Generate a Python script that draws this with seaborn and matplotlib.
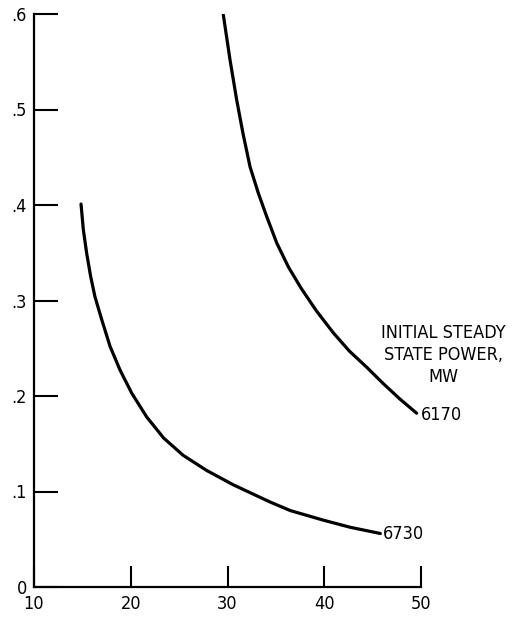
import matplotlib
matplotlib.use("Agg")
import matplotlib.pyplot as plt
from matplotlib import font_manager
import seaborn as sns
import pandas as pd

# data
x_6730 = [14.86, 15.10, 15.45, 15.86, 16.3, 17.0, 17.86, 18.9, 20.1, 21.65, 23.4, 25.4,
          27.85, 30.6, 32.5, 34.4, 36.5, 39.9, 42.7, 45.8]
y_6730 = [0.401, 0.374, 0.349, 0.325, 0.304, 0.280, 0.252, 0.227, 0.203, 0.178, 0.156, 0.138,
          0.122, 0.107, 0.098, 0.089, 0.080, 0.070, 0.0625, 0.056]
x_6170 = [29.57, 30.26, 30.95, 31.6, 32.33, 33.2, 34.05, 35.1, 36.3, 37.6, 39.2, 40.95, 42.6,
          44.4, 46.1, 47.8, 49.55]
y_6170 = [0.599, 0.552, 0.510, 0.475, 0.440, 0.412, 0.388, 0.360, 0.335, 0.313, 0.289, 0.266,
          0.247, 0.230, 0.213, 0.197, 0.182]
x_ticks = [10, 20, 30, 40, 50]
x_ticklabels = ["10", "20", "30", "40", "50"]
y_ticks = [0, 0.1, 0.2, 0.3, 0.4, 0.5, 0.6]
y_ticklabels = ["0", ".1", ".2", ".3", ".4", ".5", ".6"]
series_labels = ["6730", "6170"]
legend_title = "INITIAL STEADY\nSTATE POWER,\nMW"

df = pd.concat([
    pd.DataFrame({"x": x_6730, "y": y_6730, "power": series_labels[0]}),
    pd.DataFrame({"x": x_6170, "y": y_6170, "power": series_labels[1]}),
])

sns.set_style("white")

# pick a regular-weight condensed / narrow sans font if one is installed
narrow = None
for f in font_manager.fontManager.ttflist:
    fn = f.fname.lower()
    if ("narrow" in fn or "condensed" in fn or
            f.stretch in ("condensed", "semi-condensed", "extra-condensed")):
        if "mono" in fn or "serif" in fn or "bold" in fn or "oblique" in fn or "italic" in fn:
            continue
        if f.weight not in (400, "normal", "regular", "book"):
            continue
        if f.style != "normal":
            continue
        narrow = f
        break
if narrow is not None:
    font_prop = font_manager.FontProperties(fname=narrow.fname)
    fam = narrow.name
else:
    font_prop = None
    fam = "DejaVu Sans"
plt.rcParams["font.family"] = [fam, "DejaVu Sans"]

fig = plt.figure(figsize=(5.15, 6.21), dpi=100)
ax = fig.add_axes([34 / 515, 1 - 587 / 621, (421 - 34) / 515, (587 - 14) / 621])

sns.lineplot(data=df, x="x", y="y", hue="power", palette=["black", "black"],
             linewidth=2.3, legend=False, ax=ax, sort=False, estimator=None)

ax.set_xlim(10, 50)
ax.set_ylim(0, 0.6)
ax.set_xticks(x_ticks)
ax.set_yticks(y_ticks)
ax.set_xlabel("")
ax.set_ylabel("")

fs = 13 if narrow is not None else 12

kw = {"fontproperties": font_prop} if font_prop is not None else {}
ax.set_xticklabels(x_ticklabels, **kw)
ax.set_yticklabels(y_ticklabels, **kw)

for s in ["top", "right"]:
    ax.spines[s].set_visible(False)
for s in ["left", "bottom"]:
    ax.spines[s].set_visible(True)
    ax.spines[s].set_color("black")
    ax.spines[s].set_linewidth(1.6)

ax.tick_params(axis="x", direction="in", length=15, width=1.5, pad=6,
               labelsize=fs, colors="black", bottom=True)
ax.tick_params(axis="y", direction="in", length=17, width=1.5, pad=5,
               labelsize=fs, colors="black", left=True)


def txt(x, y, s, size, **k):
    t = ax.text(x, y, s, color="black", clip_on=False, **k)
    if font_prop is not None:
        t.set_fontproperties(font_prop)
    t.set_fontsize(size)
    return t


txt(x_6730[-1] + 0.3, y_6730[-1], series_labels[0], fs, ha="left", va="center")
txt(x_6170[-1] + 0.4, y_6170[-1] - 0.002, series_labels[1], fs, ha="left", va="center")
txt(52.3, 0.243, legend_title, fs if narrow is not None else 11, ha="center",
    va="center", linespacing=1.3)

fig.savefig("out.png", dpi=100)
